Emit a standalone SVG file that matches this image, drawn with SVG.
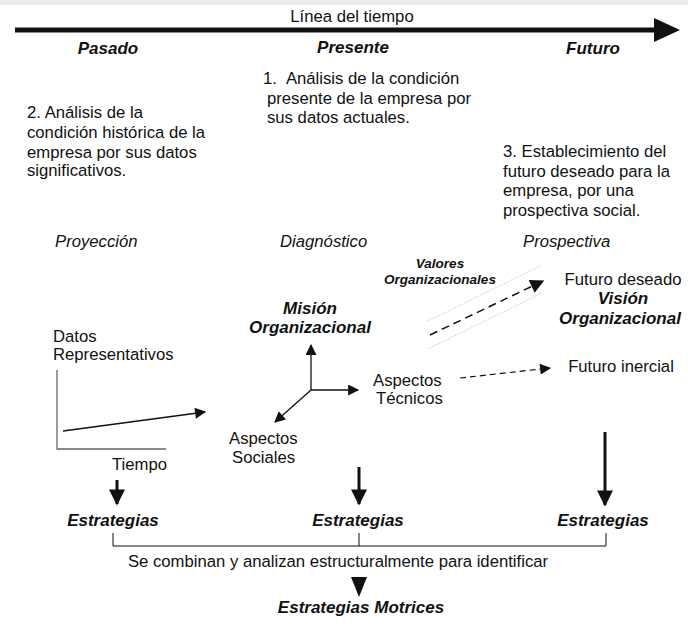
<svg xmlns="http://www.w3.org/2000/svg" width="688" height="639" viewBox="0 0 688 639">
<defs>
<style>
text{font-family:"Liberation Sans",Arial,sans-serif;fill:#111;font-size:16.7px}
.bi{font-weight:bold;font-style:italic;font-size:17px}
.it{font-style:italic}
.sm{font-size:13.5px}
.ln{stroke:#111;fill:none}
.dot{stroke:#bbb;fill:none;stroke-dasharray:1 1.5}
</style>
<marker id="tri" viewBox="0 0 10 10" refX="9" refY="5" markerWidth="12" markerHeight="11" markerUnits="userSpaceOnUse" orient="auto"><path d="M0,0 L10,5 L0,10 Z" fill="#111"/></marker>
<marker id="tri2" viewBox="0 0 10 10" refX="9" refY="5" markerWidth="15" markerHeight="14" markerUnits="userSpaceOnUse" orient="auto"><path d="M0,0 L10,5 L0,10 Z" fill="#111"/></marker>
<marker id="tri3" viewBox="0 0 10 10" refX="9" refY="5" markerWidth="17" markerHeight="16" markerUnits="userSpaceOnUse" orient="auto"><path d="M0,0 L10,5 L0,10 Z" fill="#111"/></marker>
</defs>
<rect x="0" y="0" width="688" height="5" fill="#ececec"/>
<g id="connectors">
<line x1="15" y1="30" x2="656" y2="30" stroke="#111" stroke-width="5"/>
<path d="M654,18 L680,30 L654,42 Z" fill="#111"/>
<line class="dot" x1="428" y1="321" x2="542" y2="265"/>
<line class="dot" x1="428" y1="349" x2="542" y2="293"/>
<line class="ln" x1="430" y1="335" x2="543" y2="281" stroke-width="1.5" stroke-dasharray="8 5" marker-end="url(#tri2)"/>
<line class="ln" x1="460" y1="378" x2="550" y2="368" stroke-width="1.2" stroke-dasharray="6 4" marker-end="url(#tri)"/>
<line class="ln" x1="311" y1="390" x2="311" y2="345" stroke-width="1.3" marker-end="url(#tri)"/>
<line class="ln" x1="311" y1="390" x2="358" y2="390" stroke-width="1.3" marker-end="url(#tri)"/>
<line class="ln" x1="311" y1="390" x2="275" y2="422" stroke-width="1.3" marker-end="url(#tri)"/>
<polyline points="57,370 57,449 166,449" fill="none" stroke="#666" stroke-width="1.3"/>
<line class="ln" x1="63" y1="431" x2="205" y2="412" stroke-width="1.3" marker-end="url(#tri)"/>
<line class="ln" x1="117" y1="480" x2="117" y2="504" stroke-width="3" marker-end="url(#tri3)"/>
<line class="ln" x1="359" y1="467" x2="359" y2="504" stroke-width="3" marker-end="url(#tri3)"/>
<line class="ln" x1="605" y1="432" x2="605" y2="505" stroke-width="3" marker-end="url(#tri3)"/>
<polyline points="113,533 113,546 606,546 606,533" fill="none" stroke="#111" stroke-width="1"/>
<line x1="359" y1="533" x2="359" y2="546" stroke="#111" stroke-width="1"/>
<path d="M351,577 L367,577 L359,597 Z" fill="#111"/>
</g>
<g id="timeline-label"><text x="352" y="22" text-anchor="middle">Línea del tiempo</text></g>
<g id="pasado"><text class="bi" x="108" y="54" text-anchor="middle">Pasado</text></g>
<g id="presente"><text class="bi" x="353" y="53" text-anchor="middle">Presente</text></g>
<g id="futuro"><text class="bi" x="593" y="54" text-anchor="middle">Futuro</text></g>
<g id="note1">
<text x="263" y="84">1.<tspan dx="9">Análisis de la condición</tspan></text>
<text x="267" y="104">presente de la empresa por</text>
<text x="267" y="123">sus datos actuales.</text>
</g>
<g id="note2">
<text x="27" y="118">2. Análisis de la</text>
<text x="27" y="138">condición histórica de la</text>
<text x="27" y="158">empresa por sus datos</text>
<text x="27" y="176">significativos.</text>
</g>
<g id="note3">
<text x="503" y="157">3. Establecimiento del</text>
<text x="503" y="177">futuro deseado para la</text>
<text x="503" y="196">empresa, por una</text>
<text x="503" y="216">prospectiva social.</text>
</g>
<g id="proyeccion"><text class="it" x="55" y="247">Proyección</text></g>
<g id="diagnostico"><text class="it" x="280" y="247">Diagnóstico</text></g>
<g id="prospectiva"><text class="it" x="523" y="247">Prospectiva</text></g>
<g id="valores">
<text class="bi sm" x="440" y="268" text-anchor="middle">Valores</text>
<text class="bi sm" x="440" y="284" text-anchor="middle">Organizacionales</text>
</g>
<g id="futuro-deseado">
<text x="623" y="285" text-anchor="middle">Futuro deseado</text>
<text class="bi" x="623" y="304" text-anchor="middle">Visión</text>
<text class="bi" x="620" y="324" text-anchor="middle">Organizacional</text>
</g>
<g id="futuro-inercial"><text x="621" y="372" text-anchor="middle">Futuro inercial</text></g>
<g id="mision">
<text class="bi" x="310" y="314" text-anchor="middle">Misión</text>
<text class="bi" x="310" y="333" text-anchor="middle">Organizacional</text>
</g>
<g id="aspectos-tecnicos">
<text x="373" y="386">Aspectos</text>
<text x="376" y="404">Técnicos</text>
</g>
<g id="aspectos-sociales">
<text x="229" y="444">Aspectos</text>
<text x="232" y="463">Sociales</text>
</g>
<g id="datos">
<text x="53" y="342">Datos</text>
<text x="53" y="360">Representativos</text>
</g>
<g id="tiempo"><text x="112" y="470">Tiempo</text></g>
<g id="estrategias-1"><text class="bi" x="113" y="526" text-anchor="middle">Estrategias</text></g>
<g id="estrategias-2"><text class="bi" x="358" y="526" text-anchor="middle">Estrategias</text></g>
<g id="estrategias-3"><text class="bi" x="603" y="526" text-anchor="middle">Estrategias</text></g>
<g id="combinan"><text x="338" y="567" text-anchor="middle">Se combinan y analizan estructuralmente para identificar</text></g>
<g id="motrices"><text class="bi" x="361" y="613" text-anchor="middle">Estrategias Motrices</text></g>
</svg>
